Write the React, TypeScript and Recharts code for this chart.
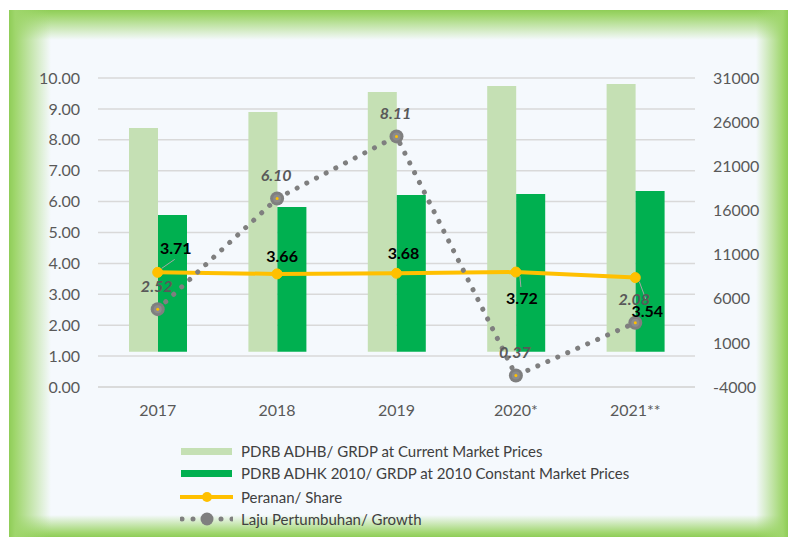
import React from 'react';
import {
  ComposedChart,
  Bar,
  Line,
  XAxis,
  YAxis,
  CartesianGrid,
  LabelList,
} from 'recharts';

const categories = ['2017', '2018', '2019', '2020*', '2021**'];
const adhbValues = [25340, 27150, 29410, 30090, 30320];
const adhkValues = [15480, 16390, 17750, 17860, 18200];
const shareValues = [3.71, 3.66, 3.68, 3.72, 3.54];
const growthValues = [2.52, 6.1, 8.11, 0.37, 2.08];
const leftTicks = [0, 1, 2, 3, 4, 5, 6, 7, 8, 9, 10];
const rightTicks = [-4000, 1000, 6000, 11000, 16000, 21000, 26000, 31000];

const seriesNames = [
  'PDRB ADHB/ GRDP at Current Market Prices',
  'PDRB ADHK 2010/ GRDP at 2010 Constant Market Prices',
  'Peranan/ Share',
  'Laju Pertumbuhan/ Growth',
];

const data = categories.map((c, i) => ({
  year: c,
  adhb: adhbValues[i],
  adhk: adhkValues[i],
  share: shareValues[i],
  growth: growthValues[i],
}));

const FONT = 'Lato, "Open Sans", sans-serif';
const LIGHT = '#c5e0b4';
const DARK = '#00b050';
const GOLD = '#ffc000';
const GREY = '#7f7f7f';

// label placement relative to each share point (dx, dy)
const shareLabelShift = [
  [18, -25],
  [5, -18],
  [7, -21],
  [6, 25],
  [12, 33],
];

const ShareLabel = (props: any) => {
  const { x, y, value, index } = props;
  const [dx, dy] = shareLabelShift[index] || [0, -20];
  const lx = x + dx;
  const ly = y + dy;
  const leader = Math.abs(dy) > 24;
  return (
    <g>
      {leader && (
        <line
          x1={x + (dx > 0 ? 4 : 0)}
          y1={y + (dy < 0 ? -4 : 4)}
          x2={lx - 1}
          y2={ly + (dy < 0 ? 12 : -10)}
          stroke="#a6a6a6"
          strokeWidth={1}
        />
      )}
      <text
        x={lx}
        y={ly}
        textAnchor="middle"
        dominantBaseline="central"
        fontFamily={FONT}
        fontWeight={700}
        fontSize={16}
        fill="#000"
      >
        {Number(value).toFixed(2)}
      </text>
    </g>
  );
};

const GrowthLabel = (props: any) => {
  const { x, y, value } = props;
  return (
    <text
      x={x - 1}
      y={y - 24}
      textAnchor="middle"
      dominantBaseline="central"
      fontFamily={FONT}
      fontStyle="italic"
      fontWeight={700}
      fontSize={16}
      fill="#595959"
    >
      {Number(value).toFixed(2)}
    </text>
  );
};

const GrowthDot = (props: any) => {
  const { cx, cy, index } = props;
  if (cx == null || cy == null) return null;
  return (
    <g key={`gd-${index}`}>
      <circle cx={cx} cy={cy} r={7} fill={GREY} />
      <circle cx={cx} cy={cy} r={4} fill="#8c8c8c" />
      <circle cx={cx} cy={cy} r={1.5} fill={GOLD} />
    </g>
  );
};

const frameStyle: React.CSSProperties = {
  position: 'absolute',
  left: 9,
  top: 10,
  width: 779,
  height: 527,
  background: [
    'linear-gradient(to right, #8fcd57 0px, #9fd66c 6px, rgba(170,220,130,0) 42px)',
    'linear-gradient(to left, #8fcd57 0px, #9fd66c 5px, rgba(170,220,130,0) 32px)',
    'linear-gradient(to bottom, #8fcd57 0px, #9fd66c 5px, rgba(170,220,130,0) 30px)',
    'linear-gradient(to top, #8fcd57 0px, #9fd66c 4px, rgba(170,220,130,0) 22px)',
    '#f5f9fd',
  ].join(', '),
};

const LegendBox = () => {
  const rowStyle: React.CSSProperties = {
    position: 'absolute',
    left: 0,
    height: 20,
    display: 'flex',
    alignItems: 'center',
  };
  const textStyle: React.CSSProperties = {
    fontFamily: FONT,
    fontSize: 15,
    color: '#404040',
    marginLeft: 8,
    whiteSpace: 'nowrap',
  };
  const rowsY = [441, 463, 487, 509];
  return (
    <div style={{ position: 'absolute', left: 180, top: 0 }}>
      <div style={{ ...rowStyle, top: rowsY[0] }}>
        <svg width={53} height={20}>
          <rect x={1} y={7} width={51} height={7} fill={LIGHT} />
        </svg>
        <span style={textStyle}>{seriesNames[0]}</span>
      </div>
      <div style={{ ...rowStyle, top: rowsY[1] }}>
        <svg width={53} height={20}>
          <rect x={1} y={7} width={51} height={7} fill={DARK} />
        </svg>
        <span style={textStyle}>{seriesNames[1]}</span>
      </div>
      <div style={{ ...rowStyle, top: rowsY[2] }}>
        <svg width={53} height={20}>
          <line x1={0} y1={10} x2={55} y2={10} stroke={GOLD} strokeWidth={4} />
          <circle cx={27} cy={10} r={5} fill={GOLD} />
        </svg>
        <span style={textStyle}>{seriesNames[2]}</span>
      </div>
      <div style={{ ...rowStyle, top: rowsY[3] }}>
        <svg width={53} height={20}>
          <circle cx={2} cy={10} r={2.5} fill={GREY} />
          <circle cx={13} cy={10} r={2.5} fill={GREY} />
          <circle cx={27} cy={10} r={6.5} fill={GREY} />
          <circle cx={41} cy={10} r={2.5} fill={GREY} />
          <circle cx={52} cy={10} r={2.5} fill={GREY} />
        </svg>
        <span style={textStyle}>{seriesNames[3]}</span>
      </div>
    </div>
  );
};

export default function App() {
  const tickStyle = { fill: '#595959', fontSize: 16, fontFamily: FONT };
  return (
    <div style={{ position: 'fixed', left: 0, top: 0, width: 788, height: 537, background: '#fff', overflow: 'hidden' }}>
      <div style={frameStyle} />
      <div style={{ position: 'absolute', left: 0, top: 0 }}>
        <ComposedChart
          width={788}
          height={537}
          data={data}
          margin={{ top: 78, right: 0, bottom: 120, left: 0 }}
          barGap={0}
        >
          <CartesianGrid yAxisId="left" vertical={false} stroke="#d9d9d9" strokeWidth={1.5} />
          <XAxis
            dataKey="year"
            height={30}
            axisLine={{ stroke: '#d9d9d9', strokeWidth: 1.5 }}
            tickLine={false}
            tickSize={0}
            tickMargin={18}
            tick={tickStyle}
            interval={0}
          />
          <YAxis
            yAxisId="left"
            orientation="left"
            width={98}
            domain={[0, 10]}
            ticks={leftTicks}
            tickFormatter={(v: number) => v.toFixed(2)}
            axisLine={false}
            tickLine={false}
            tickSize={0}
            tickMargin={18}
            tick={tickStyle}
            interval={0}
          />
          <YAxis
            yAxisId="right"
            orientation="right"
            width={93}
            domain={[-4000, 31000]}
            ticks={rightTicks}
            axisLine={false}
            tickLine={false}
            tickSize={0}
            tickMargin={18}
            tick={tickStyle}
            interval={0}
          />
          <Bar yAxisId="right" dataKey="adhb" name={seriesNames[0]} fill={LIGHT} barSize={29} isAnimationActive={false} />
          <Bar yAxisId="right" dataKey="adhk" name={seriesNames[1]} fill={DARK} barSize={29} isAnimationActive={false} />
          <Line
            yAxisId="left"
            dataKey="share"
            name={seriesNames[2]}
            stroke={GOLD}
            strokeWidth={4}
            dot={{ r: 5, fill: GOLD, stroke: GOLD, strokeWidth: 1 }}
            activeDot={false}
            isAnimationActive={false}
          >
            <LabelList dataKey="share" content={ShareLabel} />
          </Line>
          <Line
            yAxisId="left"
            dataKey="growth"
            name={seriesNames[3]}
            stroke={GREY}
            strokeWidth={5}
            strokeDasharray="0.1 10.8"
            strokeLinecap="round"
            dot={GrowthDot}
            activeDot={false}
            isAnimationActive={false}
          >
            <LabelList dataKey="growth" content={GrowthLabel} />
          </Line>
        </ComposedChart>
      </div>
      <LegendBox />
    </div>
  );
}
